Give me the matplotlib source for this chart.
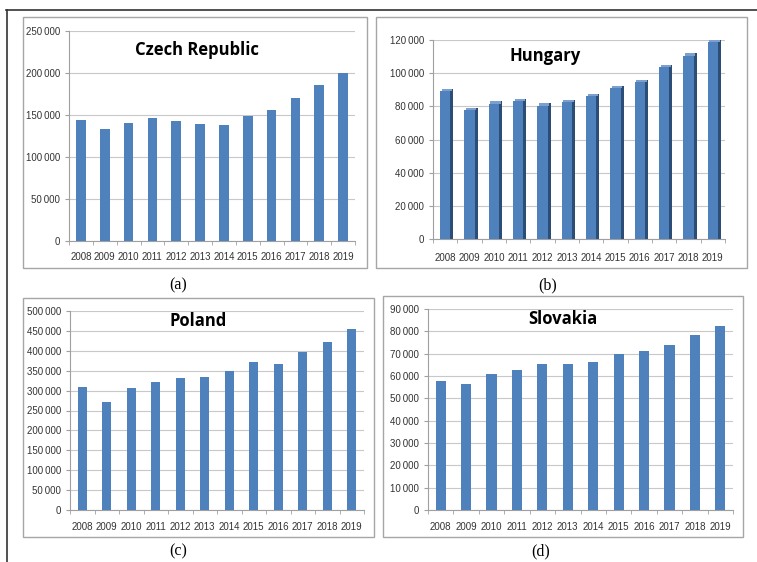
import matplotlib
matplotlib.use('Agg')
import matplotlib.pyplot as plt
from matplotlib.patches import Rectangle
from matplotlib.lines import Line2D
from matplotlib.ticker import FuncFormatter, MultipleLocator
import numpy as np

years = [str(y) for y in range(2008, 2020)]

czech = [144000, 133000, 140500, 146000, 142500, 139000, 138500, 148500, 156000, 170500, 186000, 200000]
hungary = [89000, 77500, 81500, 83000, 80500, 82500, 86000, 91000, 94500, 103500, 110500, 119000]
poland = [309000, 272000, 307000, 322000, 332000, 335000, 350000, 372000, 367000, 397000, 423000, 456000]
slovakia = [57900, 56500, 60800, 62800, 65200, 65400, 66400, 69900, 71000, 73800, 78200, 82500]

W, H = 757, 562
BLUE = '#4F81BD'
DARK = '#2C4D75'
TOP = '#7c9fcf'

fig = plt.figure(figsize=(W / 100, H / 100), dpi=100)
plt.rcParams['font.family'] = ['Liberation Sans', 'DejaVu Sans']


def px_rect(x0, y0, x1, y1):
    # pixel box (top-left origin) -> figure fraction
    return [x0 / W, 1 - y1 / H, (x1 - x0) / W, (y1 - y0) / H]


def sep(v, pos):
    return '{:,}'.format(int(v)).replace(',', '\u2009')


def panel(box, axrect, values, ymax, step, title, title_xy, label, label_xy,
          width=0.4, shaded=False, xpad=8):
    # light grey frame around each chart
    bx = px_rect(*box)
    fig.add_artist(Rectangle((bx[0], bx[1]), bx[2], bx[3], transform=fig.transFigure,
                             fill=False, edgecolor='#a6a6a6', lw=1.0))
    ax = fig.add_axes(px_rect(*axrect))
    x = np.arange(len(values))
    if shaded:
        # fake 3D: dark side face, light top face, then the front
        dx = 0.13
        dy = ymax * 0.012
        v = np.array(values)
        ax.bar(x + dx, v + dy, width, color=DARK, zorder=2)
        ax.bar(x + dx / 2, dy, width, bottom=v, color=TOP, zorder=2.5)
        ax.bar(x, values, width, color=BLUE, zorder=3)
    else:
        ax.bar(x, values, width, color=BLUE, zorder=3)
    ax.set_xlim(-0.5, len(values) - 0.5)
    ax.set_ylim(0, ymax)
    ax.yaxis.set_major_locator(MultipleLocator(step))
    ax.yaxis.set_major_formatter(FuncFormatter(sep))
    ax.set_xticks(x)
    ax.set_xticklabels(years)
    ax.set_xticks(np.arange(-0.5, len(values), 1), minor=True)
    ax.grid(axis='y', color='#c8c8c8', lw=0.8, zorder=0)
    ax.tick_params(axis='x', which='major', length=0, labelsize=7, pad=xpad, colors='#333333')
    ax.tick_params(axis='x', which='minor', length=3, color='#a0a0a0')
    ax.tick_params(axis='y', length=3, labelsize=7, color='#a0a0a0', labelcolor='#333333')
    for s in ['top', 'right']:
        ax.spines[s].set_visible(False)
    for s in ['left', 'bottom']:
        ax.spines[s].set_color('#a0a0a0')
        ax.spines[s].set_linewidth(0.8)
    ax.set_facecolor('none')
    fig.text(title_xy[0] / W, 1 - title_xy[1] / H, title, ha='center', va='center',
             fontsize=12, fontweight='bold', family=['Open Sans', 'DejaVu Sans'])
    fig.text(label_xy[0] / W, 1 - label_xy[1] / H, label, ha='center', va='center',
             fontsize=11.5, family=['Liberation Serif', 'DejaVu Serif'])
    return ax


panel((23, 17, 367, 268), (69, 31, 355, 241), czech, 250000, 50000,
      'Czech Republic', (197, 50), '(a)', (178, 285))
panel((376, 17, 747, 268), (433, 40, 725, 239), hungary, 120000, 20000,
      'Hungary', (545, 56), '(b)', (548, 285), width=0.42, shaded=True, xpad=10)
panel((23, 298, 374, 537), (70, 311, 364, 510), poland, 500000, 50000,
      'Poland', (198, 321), '(c)', (178, 551), width=0.37, xpad=9)
panel((383, 296, 743, 537), (428, 309, 733, 510), slovakia, 90000, 10000,
      'Slovakia', (563, 319), '(d)', (541, 551), xpad=9)

# outer page frame (top and left edges)
fig.add_artist(Line2D([6 / W, 1], [1 - 10 / H, 1 - 10 / H], transform=fig.transFigure,
                      color='#333333', lw=1.2))
fig.add_artist(Line2D([7 / W, 7 / W], [1 - 10 / H, 0], transform=fig.transFigure,
                      color='#333333', lw=1.2))

fig.savefig('out.png', dpi=100)
